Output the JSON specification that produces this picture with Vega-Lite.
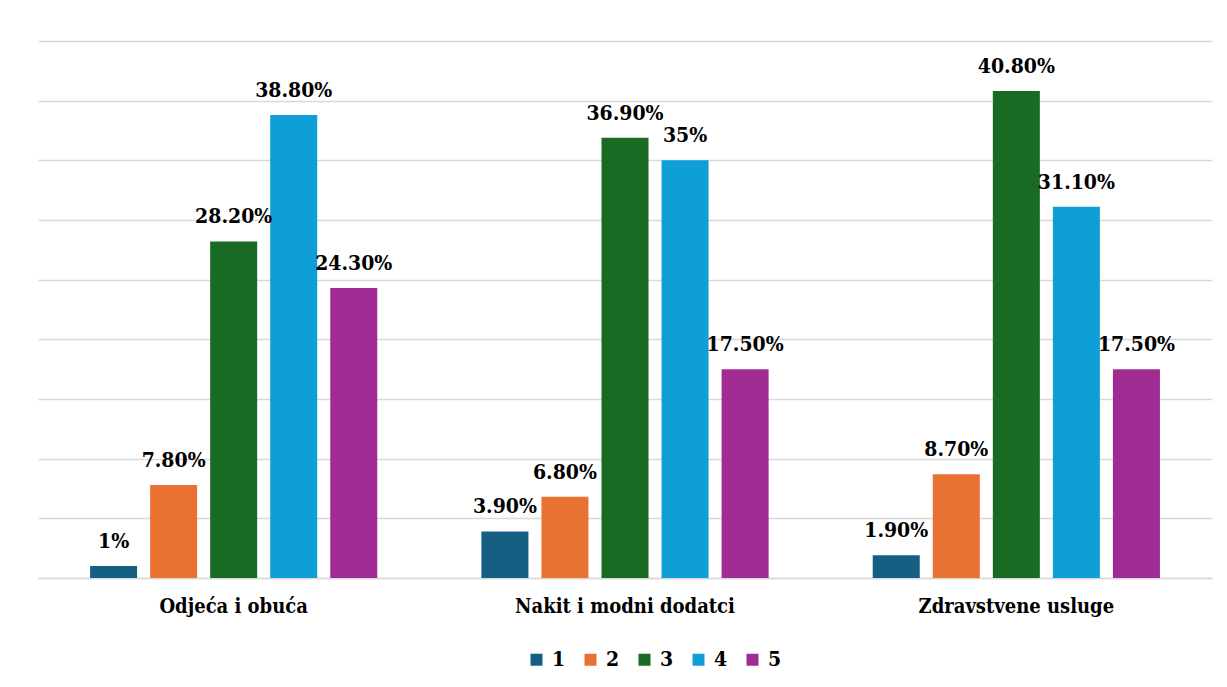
{
  "$schema": "https://vega.github.io/schema/vega-lite/v6.json",
  "width": 1174,
  "height": 537,
  "padding": {"left": 38, "top": 41, "right": 15, "bottom": 5},
  "background": "white",
  "config": {
    "view": {"stroke": null},
    "font": "DejaVu Serif Condensed"
  },
  "data": {
    "values": [
      {"cat": "Odjeća i obuća", "s": "1", "v": 1, "label": "1%"},
      {"cat": "Odjeća i obuća", "s": "2", "v": 7.8, "label": "7.80%"},
      {"cat": "Odjeća i obuća", "s": "3", "v": 28.2, "label": "28.20%"},
      {"cat": "Odjeća i obuća", "s": "4", "v": 38.8, "label": "38.80%"},
      {"cat": "Odjeća i obuća", "s": "5", "v": 24.3, "label": "24.30%"},
      {"cat": "Nakit i modni dodatci", "s": "1", "v": 3.9, "label": "3.90%"},
      {"cat": "Nakit i modni dodatci", "s": "2", "v": 6.8, "label": "6.80%"},
      {"cat": "Nakit i modni dodatci", "s": "3", "v": 36.9, "label": "36.90%"},
      {"cat": "Nakit i modni dodatci", "s": "4", "v": 35, "label": "35%"},
      {"cat": "Nakit i modni dodatci", "s": "5", "v": 17.5, "label": "17.50%"},
      {"cat": "Zdravstvene usluge", "s": "1", "v": 1.9, "label": "1.90%"},
      {"cat": "Zdravstvene usluge", "s": "2", "v": 8.7, "label": "8.70%"},
      {"cat": "Zdravstvene usluge", "s": "3", "v": 40.8, "label": "40.80%"},
      {"cat": "Zdravstvene usluge", "s": "4", "v": 31.1, "label": "31.10%"},
      {"cat": "Zdravstvene usluge", "s": "5", "v": 17.5, "label": "17.50%"}
    ]
  },
  "encoding": {
    "x": {
      "field": "cat",
      "type": "nominal",
      "sort": null,
      "scale": {"paddingInner": 0, "paddingOuter": 0},
      "axis": {
        "title": null,
        "labelAngle": 0,
        "ticks": false,
        "domain": true,
        "domainColor": "#d9d9d9",
        "domainWidth": 1.5,
        "labelFont": "DejaVu Serif Condensed",
        "labelFontSize": 20,
        "labelFontWeight": "bold",
        "labelColor": "black",
        "labelPadding": 18,
        "labelLimit": 0
      }
    },
    "xOffset": {
      "field": "s",
      "type": "nominal",
      "scale": {"paddingInner": 0.217, "paddingOuter": 0.867}
    },
    "y": {
      "field": "v",
      "type": "quantitative",
      "scale": {"domain": [0, 45], "nice": false},
      "axis": {
        "title": null,
        "labels": false,
        "ticks": false,
        "domain": false,
        "values": [0, 5, 10, 15, 20, 25, 30, 35, 40, 45],
        "gridColor": "#d9d9d9",
        "gridWidth": 1.5
      }
    }
  },
  "layer": [
    {
      "mark": {"type": "bar"},
      "encoding": {
        "color": {
          "field": "s",
          "type": "nominal",
          "scale": {
            "domain": ["1", "2", "3", "4", "5"],
            "range": ["#156082", "#E97132", "#196B24", "#0F9ED5", "#A02B93"]
          },
          "legend": {
            "title": null,
            "orient": "none",
            "legendX": 488,
            "legendY": 608,
            "direction": "horizontal",
            "symbolType": "square",
            "symbolSize": 144,
            "symbolStrokeWidth": 0,
            "labelFont": "DejaVu Serif Condensed",
            "labelFontSize": 21,
            "labelFontWeight": "bold",
            "labelColor": "black",
            "labelOffset": 5,
            "columnPadding": 14
          }
        }
      }
    },
    {
      "mark": {
        "type": "text",
        "baseline": "bottom",
        "dy": -14,
        "font": "DejaVu Serif Condensed",
        "fontSize": 21,
        "fontWeight": "bold",
        "color": "black"
      },
      "encoding": {
        "text": {"field": "label"}
      }
    }
  ]
}
